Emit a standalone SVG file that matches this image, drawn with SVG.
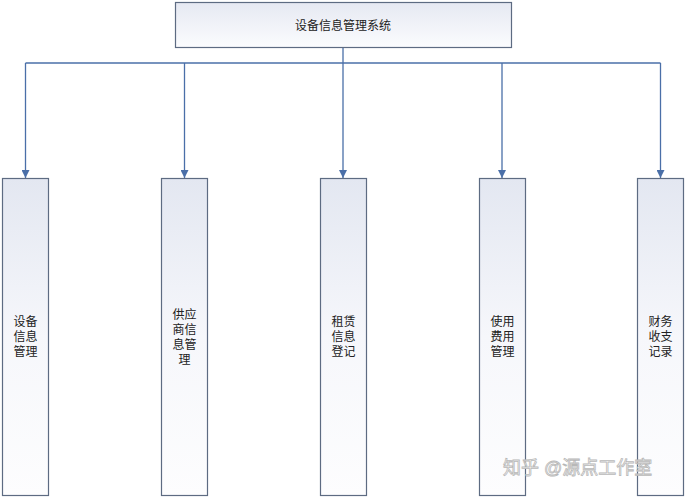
<svg xmlns="http://www.w3.org/2000/svg" width="688" height="500" viewBox="0 0 688 500">
<defs>
<linearGradient id="gTop" x1="0" y1="0" x2="0" y2="1">
<stop offset="0" stop-color="#e6e9f2"/>
<stop offset="1" stop-color="#fbfcfe"/>
</linearGradient>
<linearGradient id="gCol" x1="0" y1="0" x2="0" y2="1">
<stop offset="0" stop-color="#e3e7f1"/>
<stop offset="0.5" stop-color="#f6f7fb"/>
<stop offset="1" stop-color="#fdfdfe"/>
</linearGradient>
<marker id="arr" viewBox="0 0 10 10" refX="10" refY="5" markerWidth="8" markerHeight="8" markerUnits="userSpaceOnUse" orient="auto">
<path d="M0,0 L10,5 L0,10 Z" fill="#4a6fa8"/>
</marker>
</defs>
<style>
.box{stroke:#5d6b82;stroke-width:1.2}
.lbl{font-family:"Liberation Sans","Noto Sans CJK SC",sans-serif;font-size:12px;fill:#222;text-anchor:middle}
.con{fill:none;stroke:#4a6fa8;stroke-width:1.3}
.wm{font-family:"Liberation Sans","Noto Sans CJK SC",sans-serif;font-size:18px;fill:#ffffff;stroke:#b8b8b8;stroke-width:0.8}
</style>
<rect width="688" height="500" fill="#ffffff"/>
<g id="connectors">
<path class="con" d="M343,48 V63"/>
<path class="con" d="M25.5,63 H660.5"/>
<path class="con" marker-end="url(#arr)" d="M25.5,63 V178"/>
<path class="con" marker-end="url(#arr)" d="M184.5,63 V178"/>
<path class="con" marker-end="url(#arr)" d="M343,63 V178"/>
<path class="con" marker-end="url(#arr)" d="M502,63 V178"/>
<path class="con" marker-end="url(#arr)" d="M660.5,63 V178"/>
</g>
<g id="root">
<rect class="box" x="175.5" y="2.5" width="336" height="45" fill="url(#gTop)"/>
<text class="lbl" x="343" y="30" font-size="13">设备信息管理系统</text>
</g>
<g id="n1">
<rect class="box" x="2.5" y="178.5" width="46" height="317" fill="url(#gCol)"/>
<text class="lbl"><tspan x="25.5" y="326">设备</tspan><tspan x="25.5" y="341">信息</tspan><tspan x="25.5" y="356">管理</tspan></text>
</g>
<g id="n2">
<rect class="box" x="161.5" y="178.5" width="46" height="317" fill="url(#gCol)"/>
<text class="lbl"><tspan x="184.5" y="319">供应</tspan><tspan x="184.5" y="334">商信</tspan><tspan x="184.5" y="349">息管</tspan><tspan x="184.5" y="364">理</tspan></text>
</g>
<g id="n3">
<rect class="box" x="320.5" y="178.5" width="46" height="317" fill="url(#gCol)"/>
<text class="lbl"><tspan x="343.5" y="326">租赁</tspan><tspan x="343.5" y="341">信息</tspan><tspan x="343.5" y="356">登记</tspan></text>
</g>
<g id="n4">
<rect class="box" x="479.5" y="178.5" width="46" height="317" fill="url(#gCol)"/>
<text class="lbl"><tspan x="502.5" y="326">使用</tspan><tspan x="502.5" y="341">费用</tspan><tspan x="502.5" y="356">管理</tspan></text>
</g>
<g id="n5">
<rect class="box" x="637.5" y="178.5" width="46" height="317" fill="url(#gCol)"/>
<text class="lbl"><tspan x="660.5" y="326">财务</tspan><tspan x="660.5" y="341">收支</tspan><tspan x="660.5" y="356">记录</tspan></text>
</g>
<text class="wm" x="503" y="474">知乎 @源点工作室</text>
</svg>
